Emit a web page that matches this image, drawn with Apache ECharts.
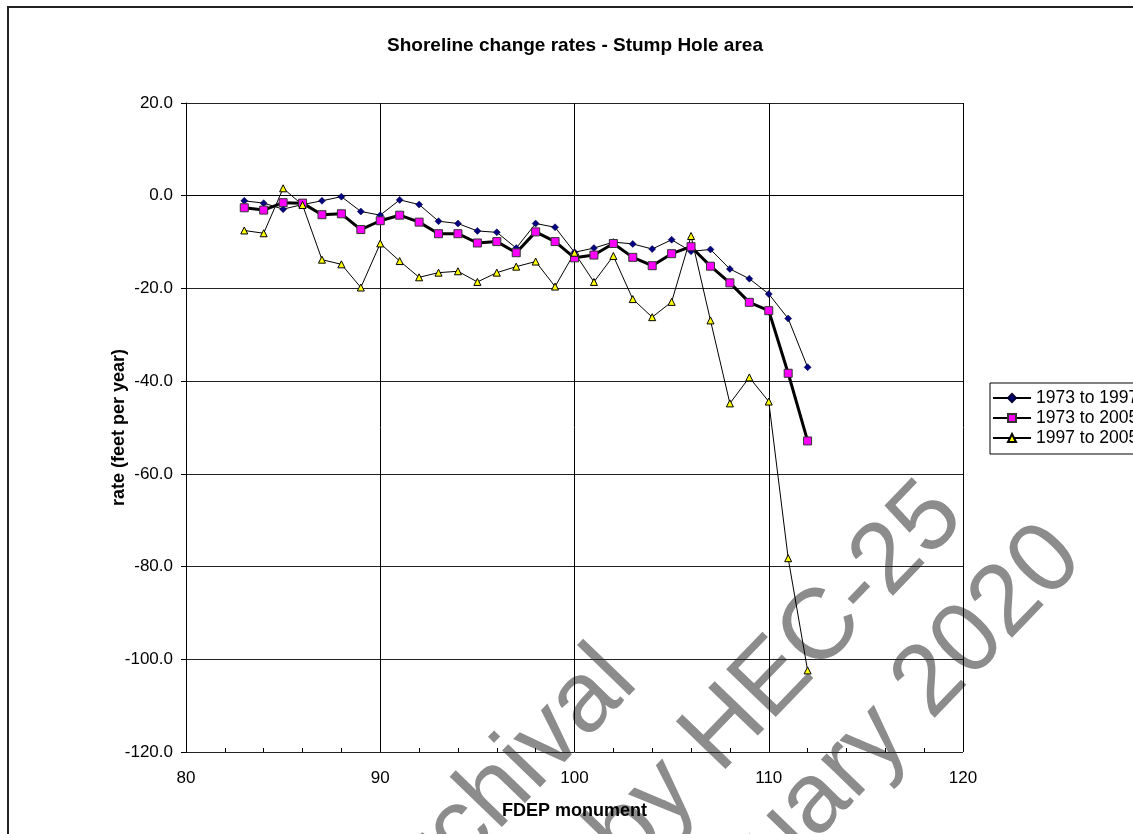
<!DOCTYPE html>
<html>
<head>
<meta charset="utf-8">
<script src="https://cdn.jsdelivr.net/npm/echarts@6/dist/echarts.min.js"></script>
<style>
  html, body { margin: 0; padding: 0; background: #fff; }
  #chart { width: 1133px; height: 834px; }
</style>
</head>
<body>
<div id="chart"></div>
<script>
// FDEP monuments along the shoreline
const monuments = [83, 84, 85, 86, 87, 88, 89, 90, 91, 92, 93, 94, 95, 96, 97,
  98, 99, 100, 101, 102, 103, 104, 105, 106, 107, 108, 109, 110, 111, 112]

// change rates, feet per year
const rate7397 = [-1.1, -1.6, -2.9, -1.9, -1.1, -0.2, -3.4, -4.2, -0.9, -1.9, -5.5, -6.0,
  -7.6, -7.9, -11.3, -6.0, -6.8, -12.2, -11.3, -10.0, -10.4, -11.5, -9.5, -12.0, -11.6,
  -15.8, -17.9, -21.2, -26.5, -37.0]
const rate7305 = [-2.6, -3.1, -1.5, -1.6, -4.1, -3.9, -7.3, -5.4, -4.2, -5.7, -8.2, -8.2,
  -10.2, -9.9, -12.3, -7.8, -9.9, -13.4, -12.8, -10.3, -13.3, -15.1, -12.5, -11.0, -15.2,
  -18.8, -23.0, -24.8, -38.3, -52.9]
const rate9705 = [-7.5, -8.1, 1.6, -2.0, -13.8, -14.8, -19.8, -10.3, -14.1, -17.6, -16.6, -16.3,
  -18.6, -16.6, -15.3, -14.2, -19.6, -12.3, -18.6, -13.0, -22.3, -26.2, -22.9, -8.7, -26.9,
  -44.8, -39.2, -44.4, -78.2, -102.4]

const seriesNames = ['1973 to 1997', '1973 to 2005', '1997 to 2005']
const watermarkLines = ['Archival', 'by HEC-25', 'January 2020']

const font = '"Liberation Sans", Arial, sans-serif'
const pairs = (vals) => monuments.map((m, i) => [m, vals[i]])

const chart = echarts.init(document.getElementById('chart'))

// watermark sits at ~46 degrees across the lower right
const wmRot = 46 * Math.PI / 180
const wmStyle = { fill: '#8c8c8c', font: '100px ' + font, textAlign: 'right', textVerticalAlign: 'middle' }

chart.setOption({
  animation: false,
  backgroundColor: '#fff',
  textStyle: { fontFamily: font },
  graphic: [
    // outer chart frame
    { type: 'rect', z: -20, shape: { x: 8, y: 7, width: 1300, height: 1000 },
      style: { fill: '#fff', stroke: '#222', lineWidth: 2 } },
    // watermark
    { type: 'text', z: -10, x: 620, y: 665, rotation: wmRot, style: Object.assign({ text: watermarkLines[0] }, wmStyle) },
    { type: 'text', z: -10, x: 947, y: 500, rotation: wmRot, style: Object.assign({ text: watermarkLines[1] }, wmStyle) },
    { type: 'text', z: -10, x: 1066, y: 542, rotation: wmRot, style: Object.assign({ text: watermarkLines[2] }, wmStyle) },
    // title
    { type: 'text', x: 575, y: 46, style: { text: 'Shoreline change rates - Stump Hole area',
      font: 'bold 19px ' + font, fill: '#000', textAlign: 'center', textVerticalAlign: 'middle' } }
  ],
  legend: {
    data: seriesNames,
    orient: 'vertical',
    left: 990, top: 383,
    padding: [6, 40, 7, 2],
    itemWidth: 38, itemHeight: 10, itemGap: 2,
    borderColor: '#000', borderWidth: 1,
    textStyle: { fontSize: 17.5, color: '#000' }
  },
  grid: { left: 186, top: 103, width: 777, height: 649 },
  xAxis: [{
    type: 'value', min: 80, max: 120, interval: 10,
    name: 'FDEP monument', nameLocation: 'middle', nameGap: 50, nameMoveOverlap: false,
    nameTextStyle: { fontSize: 18, fontWeight: 'bold', color: '#000' },
    axisLine: { lineStyle: { color: '#000', width: 1 } },
    axisTick: { length: 5, lineStyle: { color: '#000' } },
    axisLabel: { fontSize: 17, color: '#000', margin: 18 },
    splitLine: { show: true, lineStyle: { color: '#000', width: 1 } }
  }, {
    // minor ticks every 2 monuments, pointing into the plot
    type: 'value', min: 80, max: 120, interval: 2, position: 'bottom',
    axisLine: { show: false },
    axisTick: { inside: true, length: 4, lineStyle: { color: '#000' } },
    axisLabel: { show: false },
    splitLine: { show: false }
  }],
  yAxis: {
    type: 'value', min: -120, max: 20, interval: 20,
    name: 'rate (feet per year)', nameLocation: 'middle', nameGap: 58, nameMoveOverlap: false,
    nameTextStyle: { fontSize: 18, fontWeight: 'bold', color: '#000' },
    axisLine: { show: true, lineStyle: { color: '#000', width: 1 } },
    axisTick: { show: true, length: 5, lineStyle: { color: '#000' } },
    axisLabel: { fontSize: 17, color: '#000', margin: 13, formatter: (v) => v.toFixed(1) },
    splitLine: { show: true, lineStyle: { color: '#222', width: 1 } }
  },
  series: [
    {
      name: seriesNames[0], type: 'line', data: pairs(rate7397),
      symbol: 'diamond', symbolSize: 7,
      itemStyle: { color: '#000080', borderColor: '#000033', borderWidth: 0.5 },
      lineStyle: { color: '#000', width: 1 }
    },
    {
      name: seriesNames[1], type: 'line', data: pairs(rate7305),
      symbol: 'rect', symbolSize: 8,
      itemStyle: { color: '#ff00ff', borderColor: '#333', borderWidth: 1 },
      lineStyle: { color: '#000', width: 3 }
    },
    {
      name: seriesNames[2], type: 'line', data: pairs(rate9705),
      symbol: 'triangle', symbolSize: 7,
      itemStyle: { color: '#ffff00', borderColor: '#000', borderWidth: 1 },
      lineStyle: { color: '#000', width: 1 }
    }
  ]
})
</script>
</body>
</html>
